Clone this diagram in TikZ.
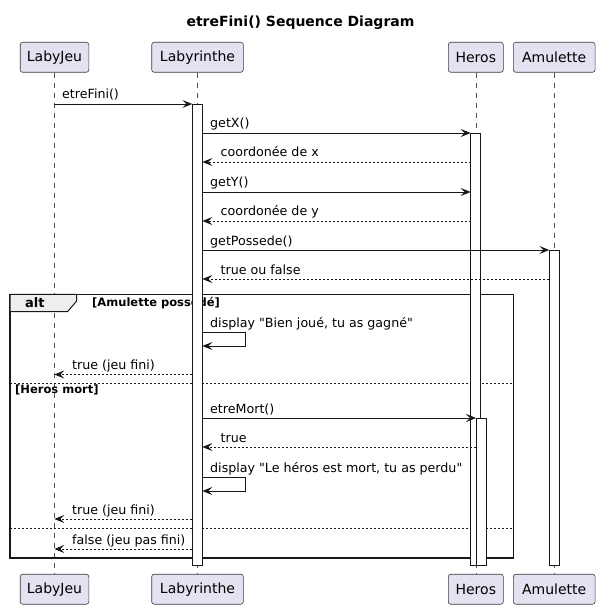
\documentclass[tikz,border=0pt]{standalone}
\usepackage{fontspec}
\setmainfont{DejaVu Sans}[Ligatures=TeXOff]
\usetikzlibrary{arrows.meta}
\definecolor{pfill}{HTML}{E2E2F0}
\definecolor{ink}{HTML}{181818}
\definecolor{hdrfill}{HTML}{EEEEEE}
\begin{document}
\begin{tikzpicture}[x=1pt,y=-1pt,
  part/.style={draw=ink!85, fill=pfill, rounded corners=2.5pt, line width=0.6pt, minimum height=30pt, inner sep=0pt, font=\fontsize{14}{16}\selectfont},
  life/.style={draw=ink!75, line width=0.5pt, dash pattern=on 5pt off 5pt},
  actbar/.style={draw=ink, fill=white, line width=0.8pt, inner sep=0pt, minimum width=10pt, anchor=north},
  msg/.style={draw=ink, line width=0.9pt, -{Stealth[length=10pt,width=8pt,inset=4pt]}},
  ret/.style={msg, dash pattern=on 2pt off 2pt},
  lbl/.style={anchor=base west, inner sep=0pt, font=\fontsize{12.65}{15}\selectfont},
  guard/.style={anchor=base west, inner sep=0pt, font=\bfseries\fontsize{11.5}{13}\selectfont},
  sep/.style={draw=ink, line width=0.8pt, dash pattern=on 2pt off 2pt},
]
\useasboundingbox (0,0) rectangle (600,609);

% title
\node[anchor=base, inner sep=0pt, font=\bfseries\fontsize{14}{16}\selectfont] (title) at (300.5,27) {etreFini() Sequence Diagram};

% participants
\node[part, minimum width=68.6pt] (lj) at (54.5,57.3) {LabyJeu};
\node[part, minimum width=91.6pt] (lb) at (197.5,57.3) {Labyrinthe};
\node[part, minimum width=55pt] (he) at (475.8,57.3) {Heros};
\node[part, minimum width=81.7pt] (am) at (554.2,57.3) {Amulette};
\node[part, minimum width=68.6pt] (ljb) at (54.5,589.2) {LabyJeu};
\node[part, minimum width=91.6pt] (lbb) at (197.5,589.2) {Labyrinthe};
\node[part, minimum width=55pt] (heb) at (475.8,589.2) {Heros};
\node[part, minimum width=81.7pt] (amb) at (554.2,589.2) {Amulette};

% lifelines
\draw[life] (lj.south) -- (ljb.north);
\draw[life] (lb.south) -- (lbb.north);
\draw[life] (he.south) -- (heb.north);
\draw[life] (am.south) -- (amb.north);

% alt frame
\draw[draw=ink, line width=1.5pt] (10,294.3) rectangle (513.3,558);
\draw[draw=ink, line width=1pt, fill=hdrfill] (10,294.3) -- (76.7,294.3) -- (76.7,301) -- (67.5,311.7) -- (10,311.7) -- cycle;
\node[anchor=base west, inner sep=0pt, font=\bfseries\fontsize{13}{15}\selectfont] (altlbl) at (25,307.5) {alt};
\node[guard] (g1) at (92,306.5) {[Amulette possédé]};
\draw[sep] (10,383) -- (513.3,383);
\node[guard] (g2) at (15,393.5) {[Heros mort]};
\draw[sep] (10,528) -- (513.3,528);

% activation bars
\node[actbar, minimum height=461pt] (alb) at (197.3,104) {};
\node[actbar, minimum height=432pt] (ahe) at (475.7,133) {};
\node[actbar, minimum height=147pt] (ahe2) at (481,418) {};
\node[actbar, minimum height=315pt] (aam) at (554.3,250) {};

% message endpoints
\coordinate (m1s) at (54.3,104);  \coordinate (m1e) at (192.3,104);
\coordinate (m2s) at (202.3,133); \coordinate (m2e) at (470.7,133);
\coordinate (m3s) at (470.7,162); \coordinate (m3e) at (202.3,162);
\coordinate (m4s) at (202.3,192); \coordinate (m4e) at (470.7,192);
\coordinate (m5s) at (470.7,221); \coordinate (m5e) at (202.3,221);
\coordinate (m6s) at (202.3,250); \coordinate (m6e) at (549.3,250);
\coordinate (m7s) at (549.3,279); \coordinate (m7e) at (202.3,279);
\coordinate (s1a) at (202.3,332); \coordinate (s1b) at (245,332);
\coordinate (s1c) at (245,346);   \coordinate (s1d) at (202.3,346);
\coordinate (m9s) at (192.3,374.5); \coordinate (m9e) at (54.3,374.5);
\coordinate (m10s) at (202.3,418); \coordinate (m10e) at (476,418);
\coordinate (m11s) at (476,447);   \coordinate (m11e) at (202.3,447);
\coordinate (s2a) at (202.3,477); \coordinate (s2b) at (245,477);
\coordinate (s2c) at (245,491);   \coordinate (s2d) at (202.3,491);
\coordinate (m13s) at (192.3,519); \coordinate (m13e) at (54.3,519);
\coordinate (m14s) at (192.3,549); \coordinate (m14e) at (54.3,549);

% messages
\draw[msg] (m1s) -- (m1e);
\node[lbl] (t1) at (62,99) {etreFini()};
\draw[msg] (m2s) -- (m2e);
\node[lbl] (t2) at (210,128) {getX()};
\draw[ret] (m3s) -- (m3e);
\node[lbl] (t3) at (220.5,157) {coordonée de x};
\draw[msg] (m4s) -- (m4e);
\node[lbl] (t4) at (210,187) {getY()};
\draw[ret] (m5s) -- (m5e);
\node[lbl] (t5) at (220.5,216) {coordonée de y};
\draw[msg] (m6s) -- (m6e);
\node[lbl] (t6) at (210,245) {getPossede()};
\draw[ret] (m7s) -- (m7e);
\node[lbl] (t7) at (220.5,274) {true ou false};
\draw[msg] (s1a) -- (s1b) -- (s1c) -- (s1d);
\node[lbl] (t8) at (210,327) {display "Bien joué, tu as gagné"};
\draw[ret] (m9s) -- (m9e);
\node[lbl] (t9) at (72,369.5) {true (jeu fini)};
\draw[msg] (m10s) -- (m10e);
\node[lbl] (t10) at (210,413) {etreMort()};
\draw[ret] (m11s) -- (m11e);
\node[lbl] (t11) at (220.5,442) {true};
\draw[msg] (s2a) -- (s2b) -- (s2c) -- (s2d);
\node[lbl] (t12) at (210,472) {display "Le héros est mort, tu as perdu"};
\draw[ret] (m13s) -- (m13e);
\node[lbl] (t13) at (72,514) {true (jeu fini)};
\draw[ret] (m14s) -- (m14e);
\node[lbl] (t14) at (72,544) {false (jeu pas fini)};
\end{tikzpicture}
\end{document}
